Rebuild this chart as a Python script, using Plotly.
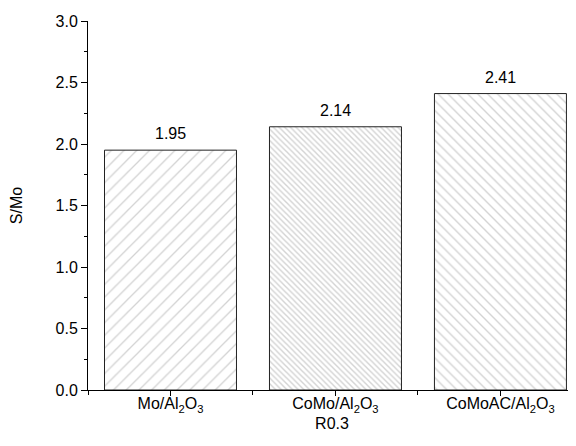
import plotly.graph_objects as go

categories = ["Mo/Al<sub>2</sub>O<sub>3</sub>", "CoMo/Al<sub>2</sub>O<sub>3</sub>", "CoMoAC/Al<sub>2</sub>O<sub>3</sub>"]
values = [1.95, 2.14, 2.41]
value_labels = ["1.95", "2.14", "2.41"]
y_ticks = [0.0, 0.5, 1.0, 1.5, 2.0, 2.5, 3.0]

xpos = list(range(len(categories)))
font_family = "Liberation Sans, Arial, sans-serif"

fig = go.Figure()
fig.add_trace(go.Bar(
    x=xpos, y=values, width=0.8,
    marker=dict(
        color="white",
        line=dict(color="#222222", width=1),
        pattern=dict(shape=["/", "\\", "\\"], size=[9, 4, 7], solidity=[0.15, 0.35, 0.2],
                     fgcolor="#a8a8a8", bgcolor="white", fillmode="overlay"),
    ),
    showlegend=False,
))

for x, v, t in zip(xpos, values, value_labels):
    fig.add_annotation(x=x, y=v, text=t, showarrow=False, yanchor="bottom", yshift=6,
                       font=dict(size=16, color="black", family=font_family))

# page body has an 8px default margin, so the figure is 8px smaller than the window
fig.update_layout(
    width=568, height=438,
    margin=dict(l=80, r=0, t=13, b=56, autoexpand=False),
    plot_bgcolor="white", paper_bgcolor="white",
    font=dict(family=font_family, size=16, color="black"),
)
fig.update_xaxes(
    range=[-0.5, 2.458],
    tickvals=xpos, ticktext=categories,
    ticks="outside", ticklen=5, tickcolor="black", tickwidth=1,
    minor=dict(tickvals=[-0.5, 0.5, 1.5, 2.5], ticks="outside", ticklen=4, tickcolor="black"),
    showline=True, linecolor="black", linewidth=1,
    showgrid=False, zeroline=False,
    ticklabelstandoff=-6, automargin=False,
    title=dict(text="R0.3", standoff=0, font=dict(size=16)),
)
fig.update_yaxes(
    range=[0, 3],
    tickvals=y_ticks, ticktext=[f"{v:.1f}" for v in y_ticks],
    ticks="outside", ticklen=6, tickcolor="black", tickwidth=1,
    minor=dict(dtick=0.25, tick0=0, ticks="outside", ticklen=3, tickcolor="black", showgrid=False),
    showline=True, linecolor="black", linewidth=1,
    showgrid=False, zeroline=False, automargin=False,
    title=dict(text="S/Mo", standoff=28, font=dict(size=16)),
)

fig.write_html("out.html")
